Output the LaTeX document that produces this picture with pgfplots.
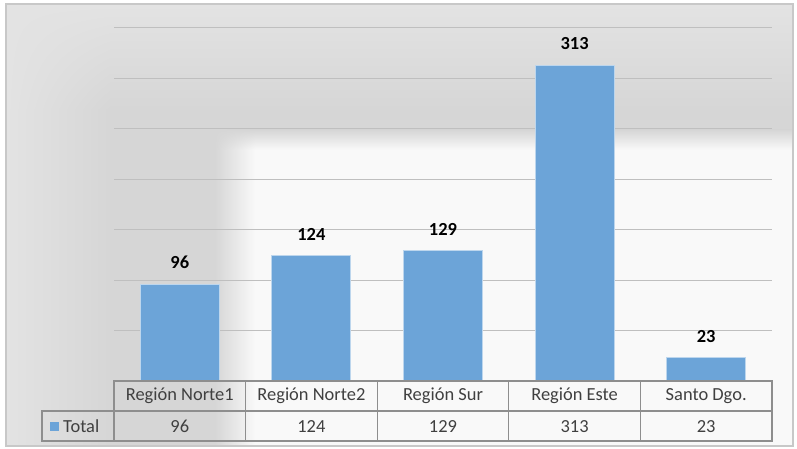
\documentclass[border=0pt]{standalone}
\usepackage{pgfplots}
\pgfplotsset{compat=1.18}
\usetikzlibrary{shadings}
\usepackage{fontspec}
\setmainfont{Carlito}
\definecolor{barblue}{HTML}{6CA4D8}
\definecolor{gridc}{HTML}{BFBFBF}
\definecolor{tabc}{HTML}{8E8E8E}
\definecolor{txt}{HTML}{404040}
\definecolor{gA}{HTML}{E3E3E3}
\definecolor{gB}{HTML}{D6D6D6}
\definecolor{wh}{HTML}{F9F9F9}
\definecolor{bord}{HTML}{C8C8C8}
\begin{document}
\begin{tikzpicture}[x=1bp,y=-1bp]
\useasboundingbox (0,0) rectangle (797,449);
% background
\fill[gB] (6,4) rectangle (793,446);
\shade[upper left=gA, upper right=gA, lower left=gA, lower right=gB] (6,4) rectangle (110,110);
\shade[left color=gA, right color=gB] (6,110) rectangle (110,446);
\shade[top color=gA, bottom color=gB] (110,4) rectangle (793,110);
\fill[wh] (215,130) rectangle (793,446);
\shade[left color=gB, right color=wh] (215,150) rectangle (255,446);
\shade[top color=gB, bottom color=wh] (255,130) rectangle (793,150);
\shade[upper left=gB, upper right=gB, lower left=gB, lower right=wh] (215,130) rectangle (255,150);
\draw[bord, line width=1.2bp] (6,4) rectangle (793,446);
\coordinate (A) at (114,381);
\begin{axis}[at={(A)}, anchor=south west, scale only axis,
  width=658bp, height=353bp,
  xmin=-0.5, xmax=4.5, ymin=0, ymax=350,
  axis line style={draw=none},
  xtick=\empty, ytick={0,50,...,350}, yticklabels={},
  major tick length=0pt,
  ymajorgrids, grid style={gridc, line width=1bp},
  ybar, bar width=79bp,
  /pgf/number format/assume math mode=true,
  nodes near coords,
  nodes near coords style={font=\fontsize{18.5}{20}\selectfont\bfseries, text=black, inner sep=0pt, yshift=15bp},
  clip=false]
\addplot[fill=barblue, draw=barblue!45!white, line width=1bp] coordinates {(0,96) (1,124) (2,129) (3,313) (4,23)};
\end{axis}
% data table
\draw[tabc, line width=1.2bp] (114,381) rectangle (772,441);
\draw[tabc, line width=1.2bp] (42,411) rectangle (114,441);
\draw[tabc, line width=1.2bp] (114,411) -- (772,411);
\foreach \xx in {245.6,377.2,508.8,640.4} {\draw[tabc, line width=1.2bp] (\xx,381) -- (\xx,441);}
\foreach \n/\lab/\v in {0/Región Norte1/96, 1/Región Norte2/124, 2/Región Sur/129, 3/Región Este/313, 4/Santo Dgo./23} {
  \pgfmathsetmacro{\cx}{114+131.6*(\n+0.5)}
  \node[txt, font=\fontsize{18.5}{20}\selectfont, inner sep=0pt] at (\cx,396) {\lab};
  \node[txt, font=\fontsize{18.5}{20}\selectfont, inner sep=0pt] at (\cx,426.5) {\v};
}
\fill[barblue] (50,422) rectangle (59,431);
\node[txt, font=\fontsize{18.5}{20}\selectfont, inner sep=0pt, anchor=west] at (63,426.5) {Total};
\end{tikzpicture}
\end{document}
